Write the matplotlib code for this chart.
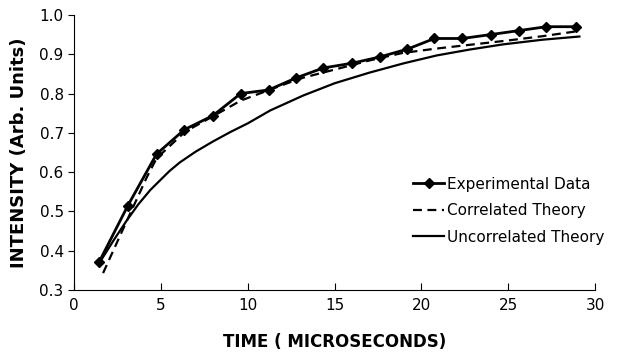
# Intensity vs time: experimental data against two theory curves
import numpy as np
import matplotlib.pyplot as plt

# experimental data points
expTime = [1.45, 3.1, 4.75, 6.35, 8.0, 9.6, 11.2, 12.8, 14.35, 16.0,
           17.6, 19.2, 20.75, 22.35, 24.0, 25.6, 27.2, 28.9]
expIntensity = [0.372, 0.515, 0.646, 0.708, 0.744, 0.800, 0.809, 0.840, 0.865, 0.877,
                0.893, 0.913, 0.940, 0.940, 0.950, 0.960, 0.970, 0.970]

# correlated theory (dashed)
corrTime = [1.67, 2.8, 4.2, 4.75, 6.4, 8.0, 9.6, 11.3, 13.0, 15.1,
            17.0, 18.9, 20.8, 22.8, 25.0, 27.0, 28.9]
corrIntensity = [0.343, 0.453, 0.588, 0.635, 0.703, 0.742, 0.782, 0.810, 0.838, 0.862,
                 0.884, 0.903, 0.914, 0.924, 0.935, 0.946, 0.958]

# uncorrelated theory (solid)
uncTime = [1.5, 2.3, 3.05, 3.7, 4.4, 5.5, 6.1, 7.0, 8.0, 9.0, 10.0,
           11.3, 13.2, 15.0, 17.0, 19.0, 20.9, 22.8, 24.7, 27.0, 29.1]
uncIntensity = [0.372, 0.428, 0.478, 0.518, 0.555, 0.603, 0.625, 0.652, 0.678, 0.702, 0.724,
                0.757, 0.795, 0.826, 0.853, 0.877, 0.897, 0.912, 0.925, 0.937, 0.945]

xTicks = [0, 5, 10, 15, 20, 25, 30]
yTicks = [0.3, 0.4, 0.5, 0.6, 0.7, 0.8, 0.9, 1.0]

fig = plt.figure(figsize=(6.33, 3.55), dpi=100)
ax = fig.add_axes([0.117, 0.183, 0.823, 0.775])

ax.plot(expTime, expIntensity, color="black", linewidth=2, marker="D",
        markersize=5.5, label="Experimental Data")
ax.plot(corrTime, corrIntensity, color="black", linewidth=1.6, linestyle=(0, (4, 2.5)),
        label="Correlated Theory")
ax.plot(uncTime, uncIntensity, color="black", linewidth=1.6, label="Uncorrelated Theory")

ax.set_xlim(0, 30)
ax.set_ylim(0.3, 1.0)
ax.set_xticks(xTicks)
ax.set_yticks(yTicks)
ax.set_xticklabels([str(t) for t in xTicks], fontsize=11)
ax.set_yticklabels(["%.1f" % t for t in yTicks], fontsize=11)
ax.tick_params(axis="x", direction="in", length=5, pad=6)
ax.tick_params(axis="y", direction="out", length=4)

ax.spines["top"].set_visible(False)
ax.spines["right"].set_visible(False)

ax.set_xlabel("TIME ( MICROSECONDS)", fontsize=12, fontweight="bold", labelpad=14)
ax.set_ylabel("INTENSITY (Arb. Units)", fontsize=13, fontweight="bold", labelpad=8)

ax.legend(loc="upper left", bbox_to_anchor=(0.625, 0.462), frameon=False,
          fontsize=11, handlelength=2.0, handletextpad=0.2, labelspacing=0.75)

plt.savefig("out.png")
